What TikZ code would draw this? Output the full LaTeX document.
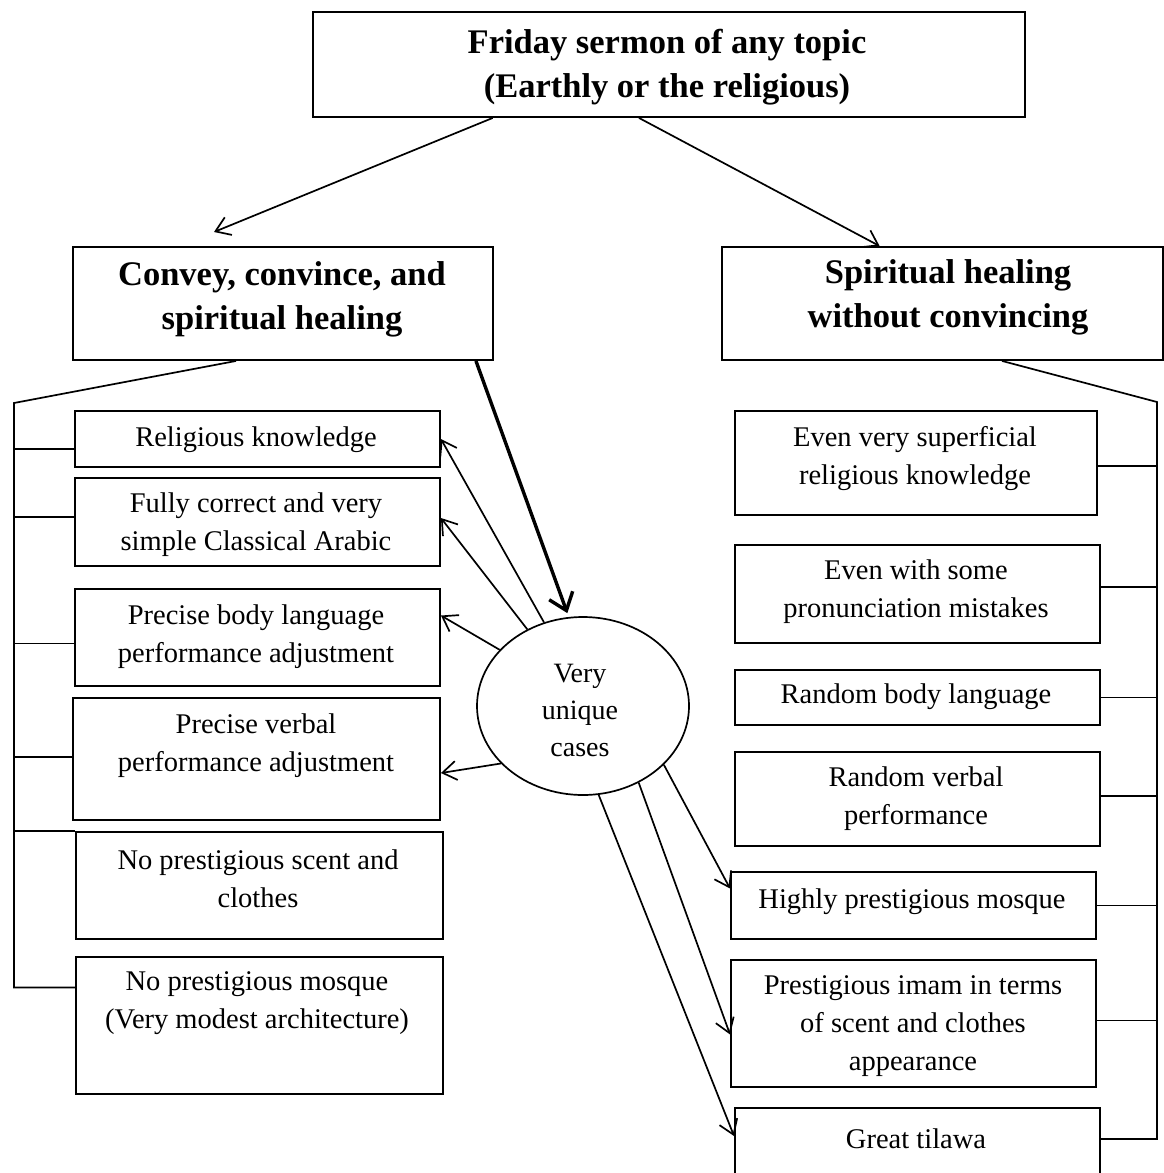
\documentclass[tikz,border=0pt]{standalone}
\usepackage{fontspec}
\setmainfont{Liberation Serif}
\usetikzlibrary{arrows.meta,shapes.geometric,calc}

\begin{document}
\begin{tikzpicture}[x=1pt,y=-1pt,
  box/.style={draw, line width=1.9pt, inner sep=0pt},
  lbl/.style={align=center, font=\fontsize{28.5pt}{38pt}\selectfont, inner sep=0pt},
  head/.style={align=center, font=\fontsize{34.5pt}{44pt}\selectfont\bfseries, inner sep=0pt},
  link/.style={line width=1.7pt},
  arr/.style={link, -{Straight Barb[length=14pt,width=19pt,line width=1.7pt]}},
  bigarr/.style={line width=3.4pt, -{Straight Barb[length=16pt,width=25pt,line width=3.4pt]}},
]
\fill[white] (0,0) rectangle (1164,1173);
\useasboundingbox (0,0) rectangle (1164,1173);
\clip (0,0) rectangle (1164,1173);

% top level
\node[box, minimum width=712pt, minimum height=105pt] (top) at (669,64.5) {};
\node[head] (topt) at (667,67) {Friday sermon of any topic\\(Earthly or the religious)};

% two branches
\node[box, minimum width=420pt, minimum height=113pt] (conv) at (283,303.5) {};
\node[head] (convt) at (282,299) {Convey, convince, and\\spiritual healing};
\node[box, minimum width=441pt, minimum height=113pt] (heal) at (942.5,303.5) {};
\node[head] (healt) at (948,297) {Spiritual healing\\without convincing};

\draw[arr] ($(top.south west)!0.253!(top.south east)$) -- (214,232) coordinate (lefttip);
\draw[arr] ($(top.south west)!0.458!(top.south east)$) -- ($(heal.north west)!0.358!(heal.north east)$);

% left column
\node[box, minimum width=365pt, minimum height=56pt] (lk) at (257.5,439) {};
\node[lbl] (lkt) at (256,440) {Religious knowledge};
\node[box, minimum width=365pt, minimum height=88pt] (lf) at (257.5,522) {};
\node[lbl] (lft) at (256,524.5) {Fully correct and very\\simple Classical Arabic};
\node[box, minimum width=365pt, minimum height=97pt] (lb) at (257.5,637.5) {};
\node[lbl] (lbt) at (256,637) {Precise body language\\performance adjustment};
\node[box, minimum width=367pt, minimum height=122pt] (lv) at (256.5,759) {};
\node[lbl] (lvt) at (256,745.5) {Precise verbal\\performance adjustment};
\node[box, minimum width=367pt, minimum height=107pt] (ls) at (259.5,885.5) {};
\node[lbl] (lst) at (258,879) {No prestigious scent and\\clothes};
\node[box, minimum width=367pt, minimum height=137pt] (lm) at (259.5,1025.5) {};
\node[lbl] (lmt) at (257,1003.5) {No prestigious mosque\\(Very modest architecture)};

% right column
\node[box, minimum width=362pt, minimum height=104pt] (rs) at (916,463) {};
\node[lbl] (rst) at (915,459) {Even very superficial\\religious knowledge};
\node[box, minimum width=365pt, minimum height=98pt] (rp) at (917.5,594) {};
\node[lbl] (rpt) at (916,592) {Even with some\\pronunciation mistakes};
\node[box, minimum width=365pt, minimum height=55pt] (rb) at (917.5,697.5) {};
\node[lbl] (rbt) at (916,697) {Random body language};
\node[box, minimum width=365pt, minimum height=94pt] (rv) at (917.5,799) {};
\node[lbl] (rvt) at (916,799) {Random verbal\\performance};
\node[box, minimum width=365pt, minimum height=67pt] (rm) at (913.5,905.5) {};
\node[lbl] (rmt) at (912,902) {Highly prestigious mosque};
\node[box, minimum width=365pt, minimum height=127pt] (ri) at (913.5,1023.5) {};
\node[lbl] (rit) at (913,1026) {Prestigious imam in terms\\of scent and clothes\\appearance};
\node[box, minimum width=365pt, minimum height=100pt] (rt) at (917.5,1158) {};
\node[lbl] (rtt) at (916,1139) {Great tilawa};

% the exceptional cases
\node[draw, ellipse, line width=1.7pt, minimum width=212pt, minimum height=178pt, inner sep=0pt] (uniq) at (583,706) {};
\node[lbl, font=\fontsize{28pt}{37pt}\selectfont] (uniqt) at (580,710) {Very\\unique\\cases};

\draw[bigarr] ([xshift=-18pt]conv.south east) -- ([yshift=4pt]uniq.100);
\draw[arr] (uniq.115) -- (lk.east);
\draw[arr] (uniq.126) -- ([yshift=4pt]lf.east);
\draw[arr] (uniq.146) -- ([yshift=22pt]lb.east);
\draw[arr] (uniq.215) -- ([yshift=-14pt]lv.east);
\draw[arr] (uniq.324) -- ([yshift=17pt]rm.west);
\draw[arr] (uniq.306) -- ([yshift=-11pt]ri.west);
\draw[arr] (uniq.280) -- ([yshift=-29pt]rt.north west);

% left bracket
\coordinate (lbar) at (14,403);
\coordinate (lkp) at ([yshift=-10pt]lk.west);
\coordinate (lfp) at ([yshift=5pt]lf.west);
\coordinate (lbp) at ([yshift=-6pt]lb.west);
\coordinate (lvp) at ([yshift=2pt]lv.west);
\coordinate (lsp) at (ls.north west);
\coordinate (lmp) at ([yshift=38pt]lm.west);
\draw[link] ([xshift=164pt]conv.south west) -- (lbar) -- (lbar |- lmp) -- (lmp);
\foreach \p in {lkp,lfp,lbp,lvp,lsp}
  \draw[link] (\p) -- (lbar |- \p);

% right bracket
\coordinate (rbar) at (1157,402);
\coordinate (rsp) at ([yshift=-3pt]rs.east);
\coordinate (rpp) at ([yshift=7pt]rp.east);
\coordinate (rbp) at (rb.east);
\coordinate (rvp) at ([yshift=3pt]rv.east);
\coordinate (rmp) at (rm.east);
\coordinate (rip) at ([yshift=3pt]ri.east);
\coordinate (rtp) at ([yshift=-32pt]rt.north east);
\draw[link] ([xshift=281pt]heal.south west) -- (rbar) -- (rbar |- rtp) -- (rtp);
\foreach \p in {rsp,rpp,rbp,rvp,rmp,rip}
  \draw[link] (\p) -- (rbar |- \p);
\end{tikzpicture}
\end{document}
